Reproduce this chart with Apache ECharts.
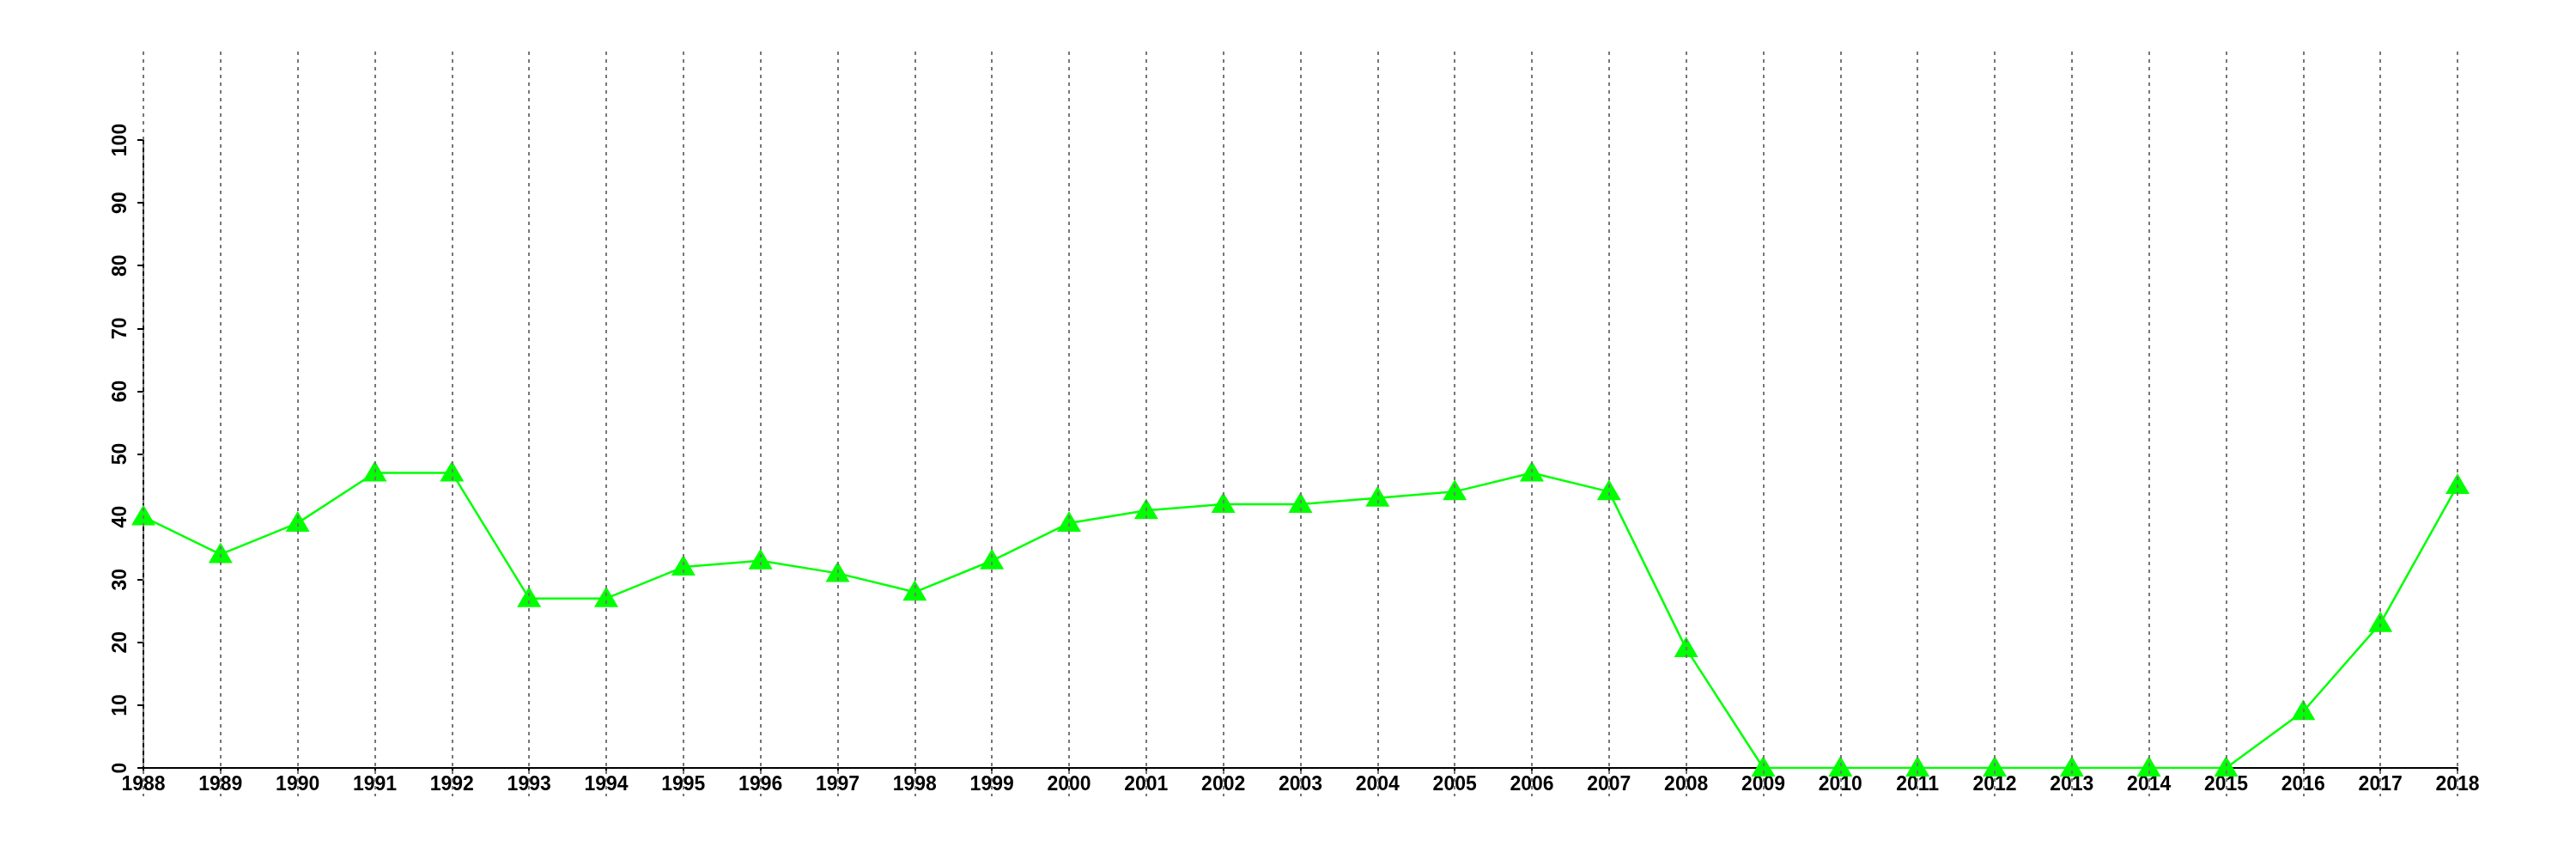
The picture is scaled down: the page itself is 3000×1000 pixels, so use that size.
<!DOCTYPE html>
<html>
<head>
<meta charset="utf-8">
<script src="https://cdn.jsdelivr.net/npm/echarts@6/dist/echarts.min.js"></script>
<style>html,body{margin:0;padding:0;background:#fff}#c{width:3000px;height:1000px}</style>
</head>
<body>
<div id="c"></div>
<script>
const years = ['1988','1989','1990','1991','1992','1993','1994','1995','1996','1997','1998','1999','2000','2001','2002','2003','2004','2005','2006','2007','2008','2009','2010','2011','2012','2013','2014','2015','2016','2017','2018'];
const values = [40,34,39,47,47,27,27,32,33,31,28,33,39,41,42,42,43,44,47,44,19,0,0,0,0,0,0,0,9,23,45];
const yMin = 0, yMax = 100, yStep = 10;

const font = 'Liberation Sans, Arial, Helvetica, sans-serif';
const chart = echarts.init(document.getElementById('c'), null, {renderer: 'canvas'});
chart.setOption({
  animation: false,
  backgroundColor: '#fff',
  grid: [
    {left: 167, right: 138, top: 163, bottom: 106},
    {left: 167, right: 138, top: 60, bottom: 73}
  ],
  xAxis: [
    {
      type: 'category', gridIndex: 0, data: years, boundaryGap: false,
      axisLine: {show: true, onZero: false, lineStyle: {color: '#000', width: 2}},
      axisTick: {show: true, length: 5, inside: false, alignWithLabel: true, lineStyle: {color: '#000', width: 2}},
      axisLabel: {show: true, interval: 0, margin: 8, color: '#000', fontSize: 23, fontWeight: 'bold', fontFamily: font},
      splitLine: {show: false}
    },
    {
      type: 'category', gridIndex: 1, data: years, boundaryGap: false, z: 10,
      axisLine: {show: false}, axisTick: {show: false}, axisLabel: {show: false},
      splitLine: {show: true, interval: 0, lineStyle: {color: '#777', width: 2, type: [4, 5]}}
    }
  ],
  yAxis: [
    {
      type: 'value', gridIndex: 0, min: yMin, max: yMax, interval: yStep,
      axisLine: {show: true, lineStyle: {color: '#000', width: 2}},
      axisTick: {show: true, length: 7, lineStyle: {color: '#000', width: 2}},
      axisLabel: {show: true, rotate: 90, margin: 15, color: '#000', fontSize: 23, fontWeight: 'bold', fontFamily: font},
      splitLine: {show: false}
    },
    {
      type: 'value', gridIndex: 1, min: 0, max: 1, show: false
    }
  ],
  series: [
    {
      type: 'line', xAxisIndex: 0, yAxisIndex: 0, data: values,
      symbol: 'triangle', symbolSize: [28, 24], symbolOffset: [0, -2],
      showAllSymbol: true,
      lineStyle: {color: '#00ff00', width: 2.5},
      itemStyle: {color: '#00ff00'},
      emphasis: {disabled: true},
      z: 2
    }
  ]
});
</script>
</body>
</html>
